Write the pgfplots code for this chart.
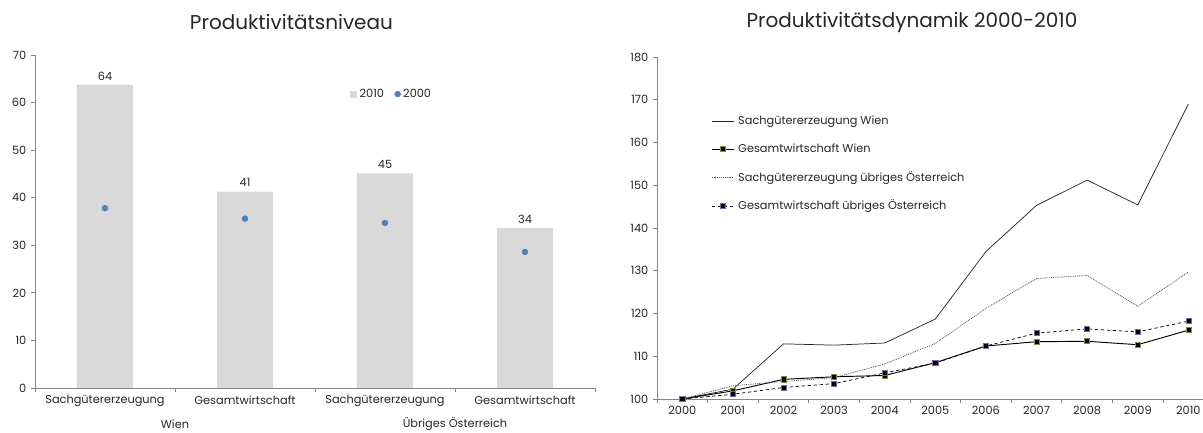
\documentclass[border=0pt]{standalone}
\usepackage{pgfplots}
\pgfplotsset{compat=1.18}
\usepackage{fontspec}
\setmainfont{Poppins}
\definecolor{barcol}{HTML}{D9D9D9}
\definecolor{dotcol}{HTML}{4F81BD}
\definecolor{axcol}{HTML}{868686}
\definecolor{txt}{HTML}{262626}
\definecolor{olive}{HTML}{76923C}
\definecolor{purp}{HTML}{8064A2}
\pgfplotstableread{
x v2010 v2000
0 63.7 37.8
1 41.3 35.6
2 45.1 34.7
3 33.6 28.6
}\levels
\pgfplotstableread{
year sw gw su gu
2000 100   100   100   100
2001 102.3 101.9 103.1 101.1
2002 112.9 104.6 104.1 102.7
2003 112.6 105.2 105.0 103.6
2004 113.1 105.5 108.2 106.1
2005 118.7 108.5 113.0 108.4
2006 134.5 112.4 121.2 112.4
2007 145.3 113.4 128.2 115.4
2008 151.2 113.5 128.9 116.4
2009 145.4 112.7 121.7 115.7
2010 169.0 116.1 129.7 118.2
}\dyn
\begin{document}
\begin{tikzpicture}[x=1pt,y=1pt]
\pgfplotsset{
  common/.style={
    scale only axis,
    axis x line*=bottom, axis y line*=left,
    axis line style={axcol, line width=0.6pt},
    tick style={axcol, line width=0.6pt},
    tick align=outside,
    major tick length=3pt,
    ticklabel style={font=\fontsize{8.5}{10}\selectfont, text=txt},
    /pgf/number format/assume math mode=true,
    /pgf/number format/1000 sep={},
    title style={font=\fontsize{15}{17}\selectfont, text=txt},
    every axis title shift=0pt,
    clip=false,
  }
}
% Left chart
\begin{axis}[common,
  at={(26.25pt,33pt)}, anchor=south west,
  width=420pt, height=249.75pt,
  xmin=-0.5, xmax=3.5, ymin=0, ymax=70,
  ytick={0,10,...,70},
  xtick={-0.5,0.5,1.5,2.5,3.5}, xticklabels={},
  extra x ticks={0,1,2,3},
  extra x tick labels={Sachgütererzeugung,Gesamtwirtschaft,Sachgütererzeugung,Gesamtwirtschaft},
  extra x tick style={major tick length=0pt, tick label style={yshift=-2pt}},
  title={Produktivitätsniveau},
  title style={at={(rel axis cs:0.458,1)}, anchor=center, yshift=25pt},
  legend style={draw=none, fill=none, at={(0.555,0.915)}, anchor=north west,
    font=\fontsize{8.5}{10}\selectfont, text=txt, legend columns=2,
    /tikz/every even column/.append style={column sep=6pt}},
  legend cell align=left,
]
\addplot[ybar, bar width=42pt, fill=barcol, draw=none,
  nodes near coords, point meta=y,
  every node near coord/.append style={font=\fontsize{8.5}{10}\selectfont, text=txt,
    /pgf/number format/fixed, /pgf/number format/precision=0},
  legend image code/.code={\fill[barcol] (0pt,-2.6pt) rectangle (5.2pt,2.6pt);}]
  table[x=x,y=v2010]{\levels};
\addlegendentry{2010}
\addplot[only marks, mark=*, mark size=2.2pt, mark options={fill=dotcol, draw=dotcol}]
  table[x=x,y=v2000]{\levels};
\addlegendentry{2000}
\node[font=\fontsize{8.5}{10}\selectfont, text=txt] at (axis cs:0.5,0) [yshift=-27pt] {Wien};
\node[font=\fontsize{8.5}{10}\selectfont, text=txt] at (axis cs:2.5,0) [yshift=-27pt] {Übriges Österreich};
\end{axis}
% Right chart
\begin{axis}[common,
  at={(492.75pt,24.75pt)}, anchor=south west,
  width=417.5pt, height=256.5pt,
  xmin=1999.5, xmax=2010.5, ymin=100, ymax=180,
  ytick={100,110,...,180},
  xtick={1999.5,2000.5,...,2010.5}, xticklabels={},
  extra x ticks={2000,2001,...,2010},
  extra x tick labels={2000,2001,2002,2003,2004,2005,2006,2007,2008,2009,2010},
  extra x tick style={major tick length=0pt, tick label style={yshift=-2pt}},
  title={Produktivitätsdynamik 2000-2010},
  title style={at={(rel axis cs:0.458,1)}, anchor=center, yshift=26pt},
  legend style={draw=none, fill=none, at={(0.097,0.835)}, anchor=north west,
    font=\fontsize{8.5}{10}\selectfont, text=txt,
    row sep=8.6pt, inner sep=0pt,
    /tikz/every odd column/.append style={column sep=1pt}},
  legend cell align=left,
  legend image code/.code={\draw[#1, mark repeat=2, mark phase=2] plot coordinates {(0pt,0pt) (8.25pt,0pt) (16.5pt,0pt)};},
]
\addplot[txt, line width=0.55pt, mark=none] table[x=year,y=sw]{\dyn};
\addlegendentry{Sachgütererzeugung Wien}
\addplot[black, line width=0.7pt, mark=square*, mark size=1.9pt,
  mark options={fill=black, draw=olive, line width=0.5pt, solid}]
  table[x=year,y=gw]{\dyn};
\addlegendentry{Gesamtwirtschaft Wien}
\addplot[black!65, line width=0.6pt, dash pattern=on 0.7pt off 0.7pt, mark=none] table[x=year,y=su]{\dyn};
\addlegendentry{Sachgütererzeugung übriges Österreich}
\addplot[black, line width=0.55pt, dash pattern=on 2.5pt off 2pt, mark=square*, mark size=1.9pt,
  mark options={fill=black, draw=purp, line width=0.5pt, solid}]
  table[x=year,y=gu]{\dyn};
\addlegendentry{Gesamtwirtschaft übriges Österreich}
\end{axis}
\pgfresetboundingbox
\path[use as bounding box] (0,0) rectangle (902.25pt,324pt);
\end{tikzpicture}
\end{document}
